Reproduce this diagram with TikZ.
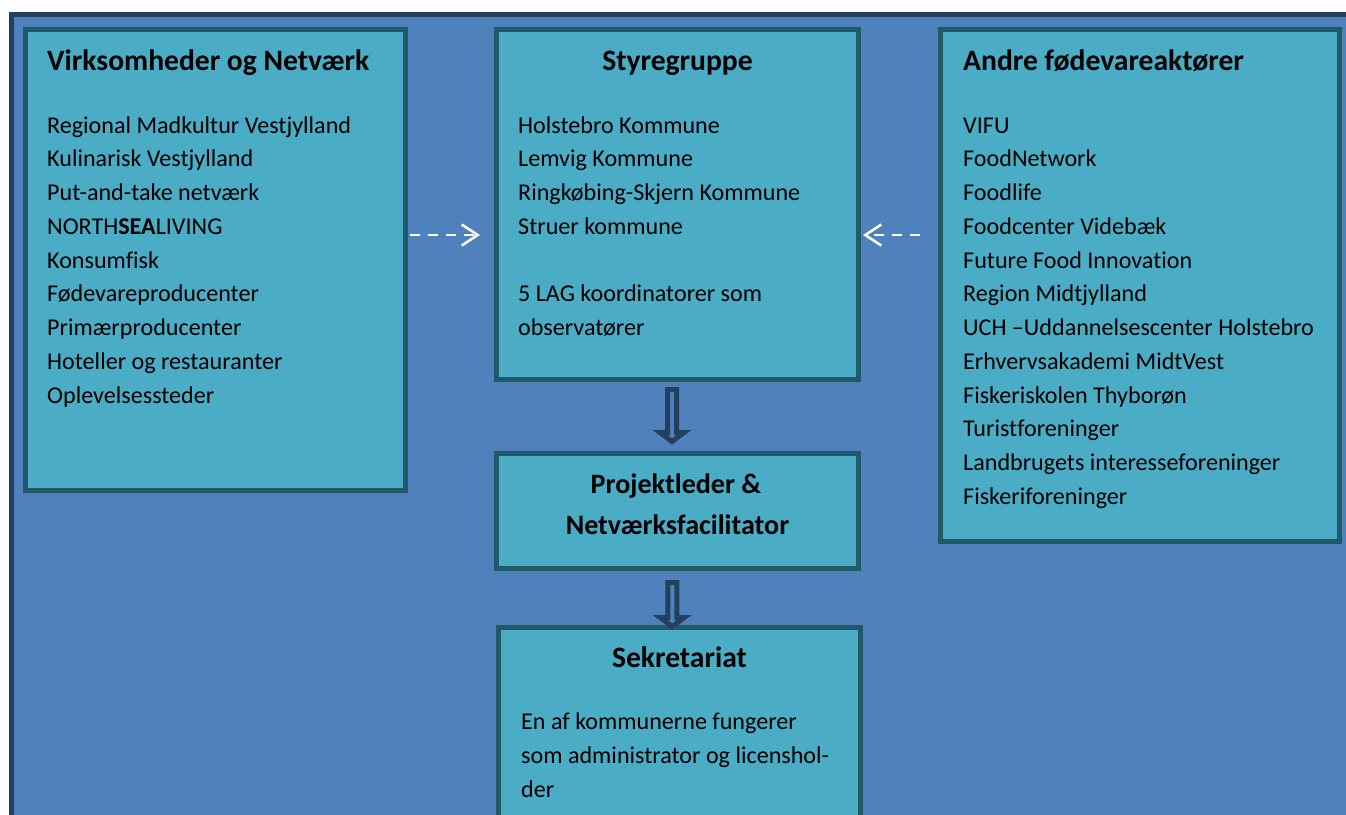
\documentclass[tikz,border=0pt]{standalone}
\usepackage{fontspec}
\setmainfont[Ligatures=NoCommon]{Carlito}
\usetikzlibrary{arrows.meta,calc}
\definecolor{bgblue}{HTML}{4F81BD}
\definecolor{navy}{HTML}{243F60}
\definecolor{boxfill}{HTML}{4BACC6}
\definecolor{boxline}{HTML}{215968}
\begin{document}
\begin{tikzpicture}[x=1pt,y=-1pt,
  box/.style={draw=boxline, fill=boxfill, line width=5pt, rectangle, inner sep=0pt, outer sep=0pt, anchor=north west},
  body/.style={anchor=base west, inner sep=0pt, font=\fontsize{24.1}{33.75}\selectfont},
  ttl/.style={anchor=base west, inner sep=0pt, font=\fontsize{29.6}{39}\selectfont\bfseries},
  ttlc/.style={ttl, anchor=base},
  ttlp/.style={ttlc, font=\fontsize{28.1}{39}\selectfont\bfseries},
  dasharrow/.style={draw=white, line width=2.5pt, dash pattern=on 10pt off 8pt, -{Straight Barb[length=16pt, width=21pt, line width=2.5pt]}},
  harrow/.style={draw=navy, fill=bgblue, line width=5pt, line join=miter}]
\useasboundingbox (0,0) rectangle (1346,814);
\clip (0,0) rectangle (1346,814);
\draw[navy, line width=5pt, fill=bgblue] (11.5,14.5) rectangle (1400,900);

% boxes
\node[box, minimum width=379.5, minimum height=460.5] (virk) at (25.5,29.5) {};
\node[box, minimum width=362, minimum height=349.5] (styre) at (496,29.5) {};
\node[box, minimum width=399, minimum height=511.5] (andre) at (940.5,29.5) {};
\node[box, minimum width=362.5, minimum height=115] (proj) at (496,453) {};
\node[box, minimum width=361.5, minimum height=280] (sek) at (498.5,627) {};

% titles
\node[ttl] (virkT) at (47,70) {Virksomheder og Netværk};
\node[ttlc] (styreT) at (677.5,70) {Styregruppe};
\node[ttl] (andreT) at (963,70) {Andre fødevareaktører};
\node[ttlp] (projT1) at (676,493) {Projektleder \&};
\node[ttlp] (projT2) at (677.5,534) {Netværksfacilitator};
\node[ttlc] (sekT) at (679.5,667) {Sekretariat};

% body texts
\foreach \t [count=\i] in {Regional Madkultur Vestjylland, Kulinarisk Vestjylland, Put-and-take netværk, NORTH\textbf{SEA}LIVING, Konsumfisk, Fødevareproducenter, Primærproducenter, Hoteller og restauranter, Oplevelsessteder}
  \node[body] (v\i) at (47,{133+(\i-1)*33.75}) {\t};
\foreach \t [count=\i] in {Holstebro Kommune, Lemvig Kommune, Ringkøbing-Skjern Kommune, Struer kommune}
  \node[body] (s\i) at (518,{133+(\i-1)*33.75}) {\t};
\node[body] (s5) at (518,301.75) {5 LAG koordinatorer som};
\node[body] (s6) at (518,335.5) {observatører};
\foreach \t [count=\i] in {VIFU, FoodNetwork, Foodlife, Foodcenter Videbæk, Future Food Innovation, Region Midtjylland, UCH –Uddannelsescenter Holstebro, Erhvervsakademi MidtVest, Fiskeriskolen Thyborøn, Turistforeninger, Landbrugets interesseforeninger, Fiskeriforeninger}
  \node[body] (a\i) at (963,{133+(\i-1)*33.75}) {\t};
\node[body] (k1) at (521,729) {En af kommunerne fungerer};
\node[body] (k2) at (521,763.5) {som administrator og licenshol-};
\node[body] (k3) at (521,797.5) {der};

% dashed arrows
\coordinate (dy) at (0,235);
\draw[dasharrow] ($(virk.east |- dy)+(5,0)$) -- ($(styre.west |- dy)+(-16,0)$);
\draw[dasharrow] ($(andre.west |- dy)+(-20.5,0)$) -- ($(styre.east |- dy)+(5,0)$);

% hollow arrows
\begin{scope}[shift={(styre.south)}]
  \draw[harrow] (-9.5,10.5) -- (-0.5,10.5) -- (-0.5,53.5) -- (7,53.5) -- (-5,62.5) -- (-17,53.5) -- (-9.5,53.5) -- cycle;
\end{scope}
\begin{scope}[shift={(proj.south)}]
  \draw[harrow] (-9.5,14.5) -- (-0.5,14.5) -- (-0.5,49.5) -- (7,49.5) -- (-5,58.5) -- (-17,49.5) -- (-9.5,49.5) -- cycle;
\end{scope}
\end{tikzpicture}
\end{document}
